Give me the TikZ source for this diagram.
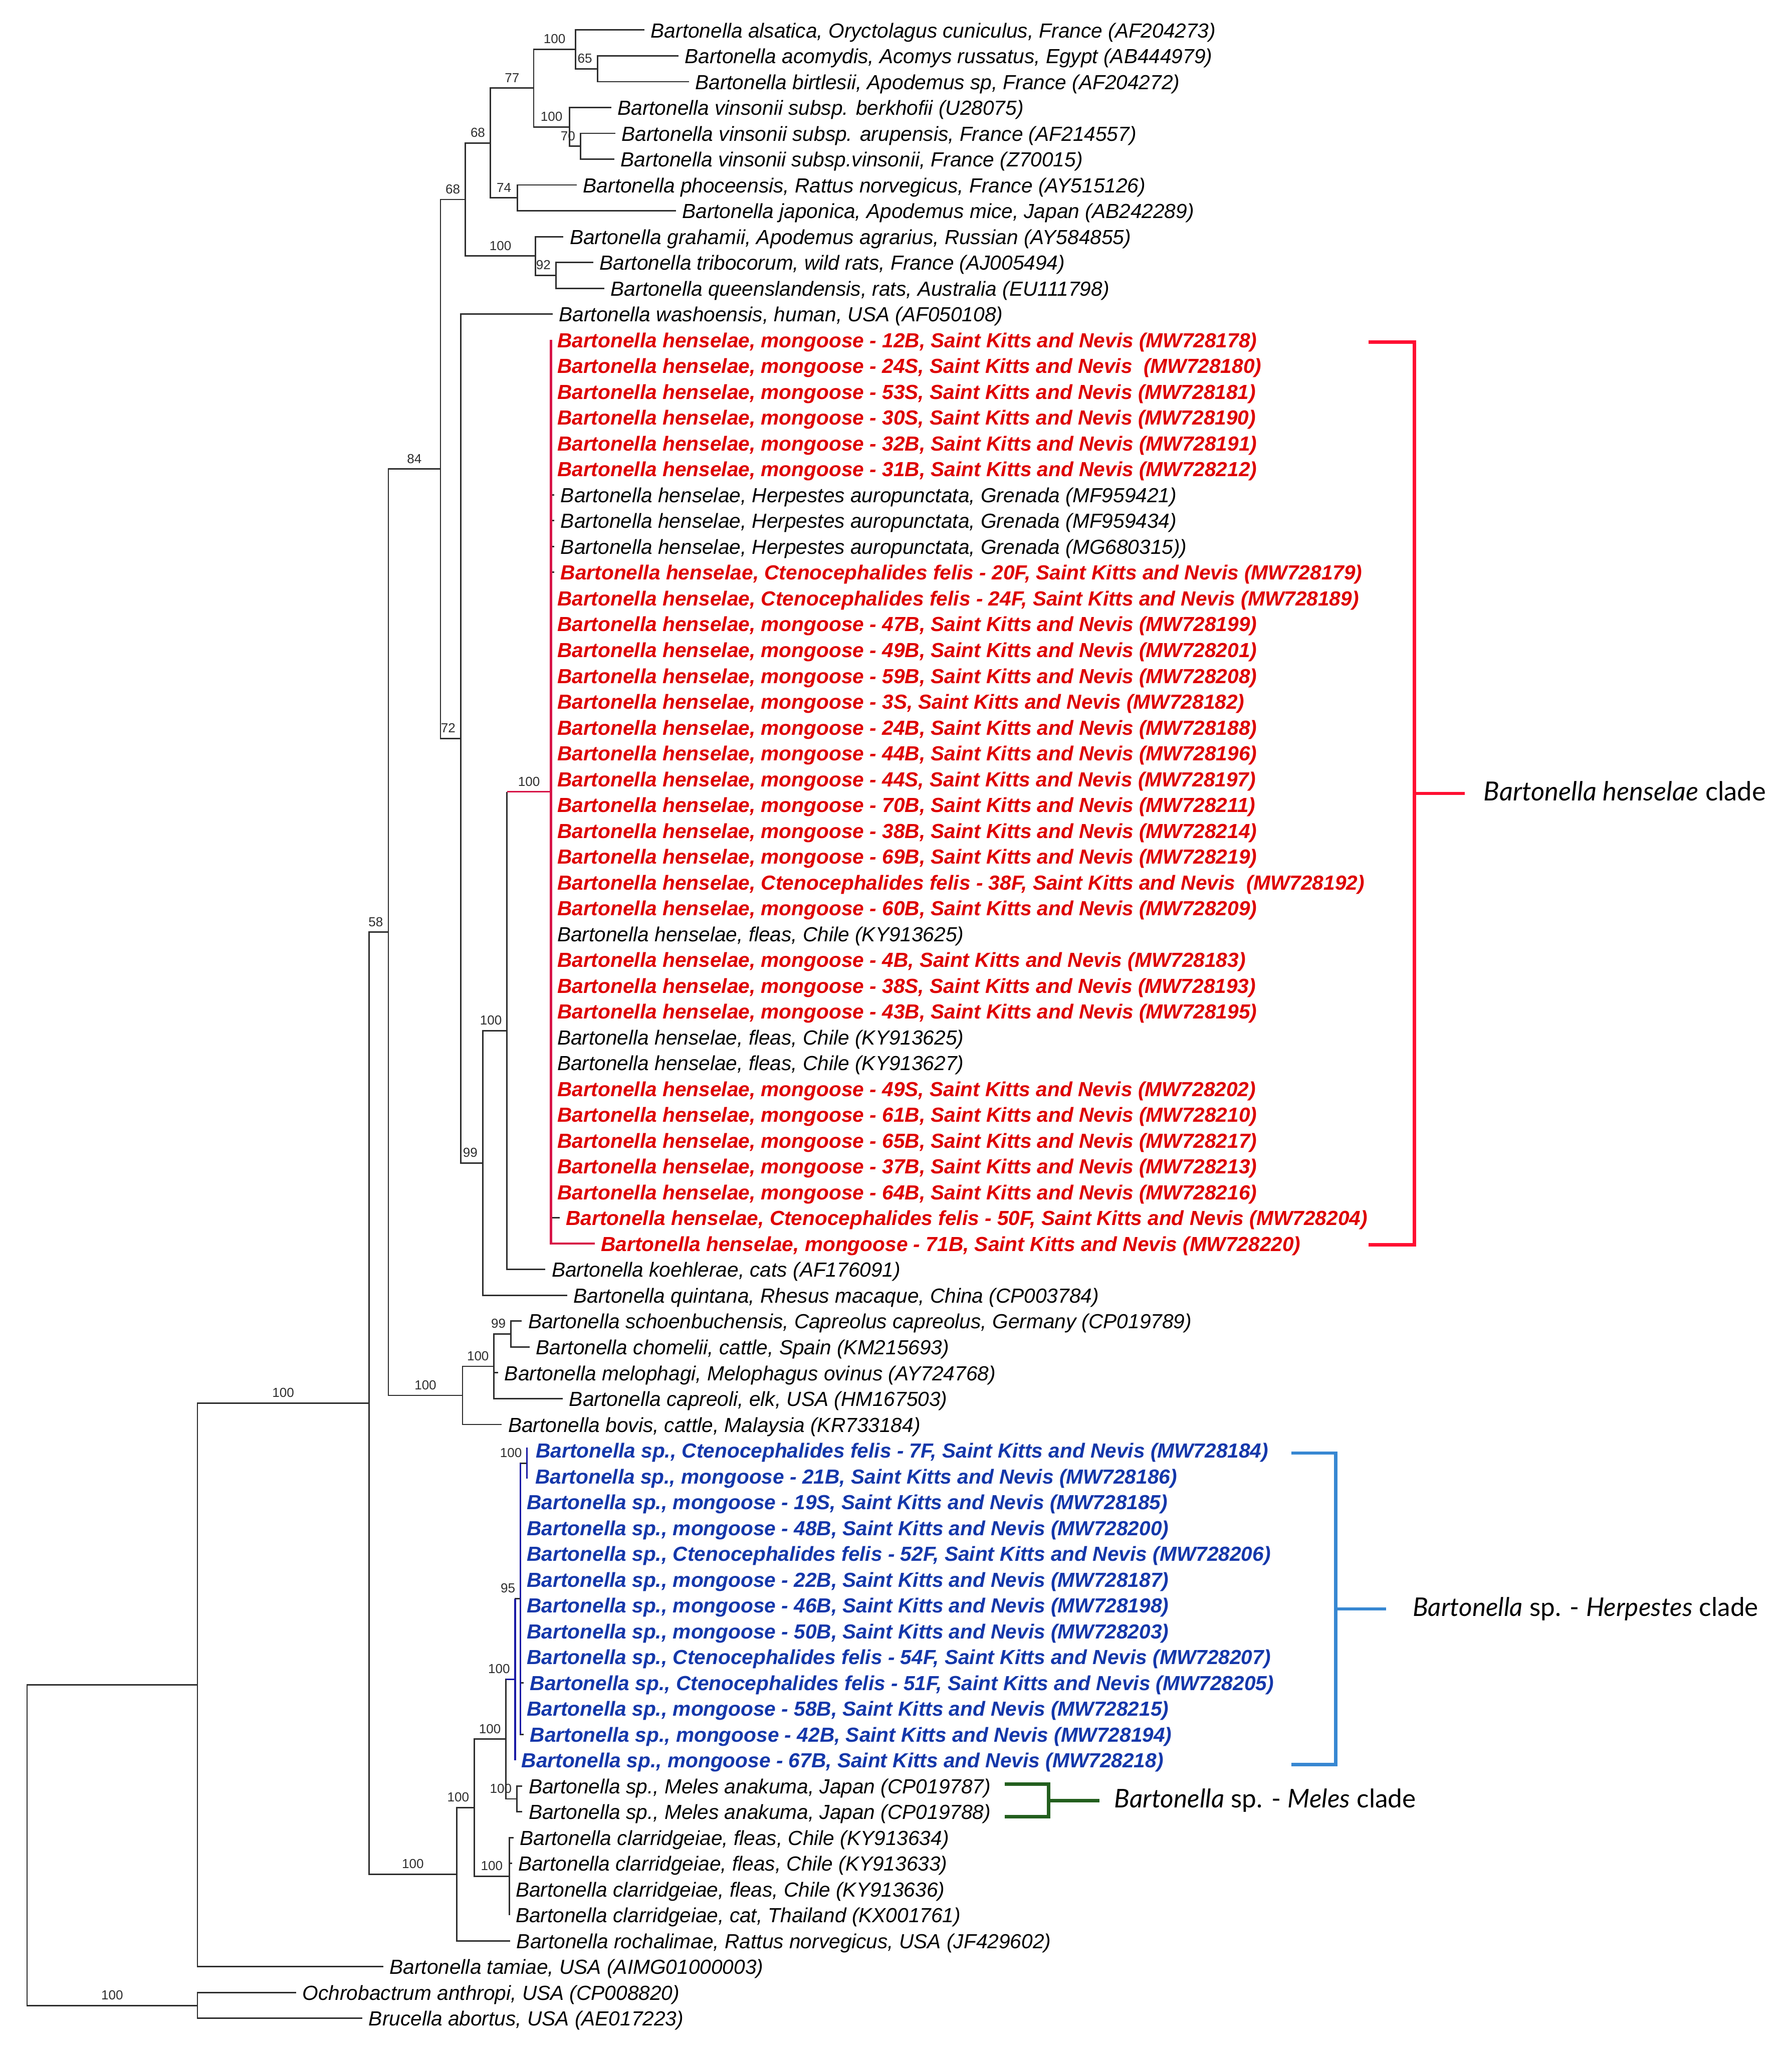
\documentclass[tikz,border=0pt]{standalone}
\usepackage{fontspec}
\setmainfont{Liberation Sans}
\newfontfamily\cladefont{Lato}
\usetikzlibrary{calc}
\definecolor{treegray}{RGB}{45,45,45}
\definecolor{hred}{RGB}{222,0,0}
\definecolor{hredline}{RGB}{215,20,70}
\definecolor{bblue}{RGB}{20,55,170}
\definecolor{bblueline}{RGB}{25,25,165}
\definecolor{brred}{RGB}{255,15,50}
\definecolor{brblue}{RGB}{55,135,210}
\definecolor{brgreen}{RGB}{35,95,30}
\newcommand{\ly}[1]{(23+(#1-1)*19.77)}
\newcommand{\BhM}[2]{Bartonella henselae, mongoose - #1, Saint Kitts and Nevis (#2)}
\newcommand{\BhC}[2]{Bartonella henselae, Ctenocephalides felis - #1, Saint Kitts and Nevis (#2)}
\newcommand{\BsM}[2]{Bartonella sp., mongoose - #1, Saint Kitts and Nevis (#2)}
\newcommand{\BsC}[2]{Bartonella sp., Ctenocephalides felis - #1, Saint Kitts and Nevis (#2)}
\tikzset{
  br/.style={draw=treegray, line width=0.55pt},
  redv/.style={draw=hredline, line width=0.8pt},
  redthin/.style={draw=hredline, line width=0.55pt},
  bluev/.style={draw=bblueline, line width=0.65pt},
  leaf/.style={anchor=base west, inner sep=0pt, text=black, font=\fontsize{7.8}{9}\selectfont\itshape, xshift=2.25pt, yshift=-2.9pt},
  redleaf/.style={leaf, text=hred, font=\fontsize{7.8}{9}\selectfont\bfseries\itshape},
  blueleaf/.style={leaf, text=bblue, font=\fontsize{7.8}{9}\selectfont\bfseries\itshape},
  bs/.style={anchor=base, inner sep=0pt, text=treegray, font=\fontsize{5}{6}\selectfont, yshift=2.25pt},
  brk/.style={line width=1.3pt, line join=miter, line cap=butt},
  clade/.style={anchor=base west, inner sep=0pt, font=\cladefont\fontsize{9.85}{11}\selectfont, yshift=-2.7pt},
  cladeh/.style={clade, font=\cladefont\fontsize{10.1}{11}\selectfont}
}
\begin{document}
\begin{tikzpicture}[x=0.5pt,y=-0.5pt]
\fill[white] (0,0) rectangle (1372,1568);
\useasboundingbox (0,0) rectangle (1372,1568);
% internal nodes
\coordinate (Root) at (20.7,1412.73);
\coordinate (A) at (151.2,1290.06);
\coordinate (OG) at (151.2,1535.405);
\coordinate (Core) at (282.5,1074.37);
\coordinate (N58) at (297.4,713.72);
\coordinate (N84) at (337.3,359.09);
\coordinate (N68a) at (356.4,152.74);
\coordinate (N68b) at (375.5,109.49);
\coordinate (N77) at (408.7,67.48);
\coordinate (T100) at (440.7,37.83);
\coordinate (N65) at (457.5,52.655);
\coordinate (V100) at (436,97.14);
\coordinate (N70) at (444.5,111.965);
\coordinate (N74) at (396.3,151.505);
\coordinate (G100) at (410.1,195.99);
\coordinate (N92) at (425.7,210.815);
\coordinate (N72) at (352.8,565.44);
\coordinate (N99) at (369.7,890.41);
\coordinate (H100) at (388.2,789.09);
\coordinate (R100) at (421.9,606.215);
\coordinate (S100) at (354.2,1068.34);
\coordinate (S100b) at (378.3,1046.1);
\coordinate (N99b) at (391.3,1021.385);
\coordinate (W) at (349.8,1435.01);
\coordinate (Z) at (363.2,1384.04);
\coordinate (C100) at (390,1436.555);
\coordinate (Y) at (387.5,1331.53);
\coordinate (M100) at (395.8,1377.245);
\coordinate (X) at (394.5,1285.81);
\coordinate (N95) at (398.6,1224.03);
\coordinate (P100) at (403.6,1120.24);
% leaf ends
\coordinate (L1) at (493.5,{\ly{1}});
\coordinate (L2) at (519.5,{\ly{2}});
\coordinate (L3) at (527.5,{\ly{3}});
\coordinate (L4) at (468,{\ly{4}});
\coordinate (L5) at (471.1,{\ly{5}});
\coordinate (L6) at (470.5,{\ly{6}});
\coordinate (L7) at (441.7,{\ly{7}});
\coordinate (L8) at (517.5,{\ly{8}});
\coordinate (L9) at (431.5,{\ly{9}});
\coordinate (L10) at (454.3,{\ly{10}});
\coordinate (L11) at (462.8,{\ly{11}});
\coordinate (L12) at (423.2,{\ly{12}});
\foreach \i in {13,...,18,23,24,...,46} {\coordinate (L\i) at (421.9,{\ly{\i}});}
\foreach \i in {19,20,21,22} {\coordinate (L\i) at (424.5,{\ly{\i}});}
\coordinate (L47) at (428.5,{\ly{47}});
\coordinate (L48) at (455.4,{\ly{48}});
\coordinate (L49) at (417.7,{\ly{49}});
\coordinate (L50) at (434.3,{\ly{50}});
\coordinate (L51) at (399.6,{\ly{51}});
\coordinate (L52) at (405.5,{\ly{52}});
\coordinate (L53) at (381.5,{\ly{53}});
\coordinate (L54) at (431,{\ly{54}});
\coordinate (L55) at (384.3,{\ly{55}});
\coordinate (L56) at (405.5,{\ly{56}});
\coordinate (L57) at (405,{\ly{57}});
\foreach \i in {58,...,64,66} {\coordinate (L\i) at (398.6,{\ly{\i}});}
\coordinate (L65) at (401,{\ly{65}});
\coordinate (L67) at (401,{\ly{67}});
\coordinate (L68) at (394.5,{\ly{68}});
\coordinate (L69) at (400,{\ly{69}});
\coordinate (L70) at (400,{\ly{70}});
\coordinate (L71) at (393.2,{\ly{71}});
\coordinate (L72) at (392,{\ly{72}});
\coordinate (L73) at (390,{\ly{73}});
\coordinate (L74) at (390,{\ly{74}});
\coordinate (L75) at (390.7,{\ly{75}});
\coordinate (L76) at (293.5,{\ly{76}});
\coordinate (L77) at (226.8,{\ly{77}});
\coordinate (L78) at (277.5,{\ly{78}});
% internal branches
\draw[br] (Root) |- (A);
\draw[br] (Root) |- (OG);
\draw[br] (A) |- (Core);
\draw[br] (Core) |- (N58);
\draw[br] (Core) |- (W);
\draw[br] (N58) |- (N84);
\draw[br] (N58) |- (S100);
\draw[br] (N84) |- (N68a);
\draw[br] (N84) |- (N72);
\draw[br] (N68a) |- (N68b);
\draw[br] (N68a) |- (G100);
\draw[br] (N68b) |- (N77);
\draw[br] (N68b) |- (N74);
\draw[br] (N77) |- (T100);
\draw[br] (N77) |- (V100);
\draw[br] (T100) |- (N65);
\draw[br] (V100) |- (N70);
\draw[br] (G100) |- (N92);
\draw[br] (N72) |- (N99);
\draw[br] (N99) |- (H100);
\draw[br] (H100) -- (H100 |- R100);
\draw[br] (S100) |- (S100b);
\draw[br] (S100b) |- (N99b);
\draw[br] (W) |- (Z);
\draw[br] (Z) |- (Y);
\draw[br] (Z) |- (C100);
\draw[br] (Y) |- (X);
\draw[br] (Y) |- (M100);
\draw[br] (X) |- (N95);
\draw[br] (N95) |- (P100);
% leaf branches
\foreach \p/\c in {T100/L1, N65/L2, N65/L3, V100/L4, N70/L5, N70/L6, N74/L7, N74/L8, G100/L9, N92/L10, N92/L11, N72/L12,
  R100/L19, R100/L20, R100/L21, R100/L22, R100/L47, H100/L49, N99/L50, N99b/L51, N99b/L52, S100b/L53, S100b/L54, S100/L55,
  N95/L65, N95/L67, X/L68, M100/L69, M100/L70, C100/L71, C100/L72, C100/L73, C100/L74, W/L75, A/L76, OG/L77, OG/L78}
  {\draw[br] (\p) |- (\c);}
% coloured branches
\draw[redthin] (H100 |- R100) -- (R100);
\draw[redv] (R100 |- L13) -- (R100 |- L48) -- (L48);
\draw[bluev] (Y |- X) -- (X);
\draw[bluev] (X |- N95) -- (X |- L68);
\draw[bluev] (N95 |- P100) -- (N95 |- L67);
\draw[bluev] ([yshift=1pt]P100 |- L56) -- ([yshift=-1pt]P100 |- L57);
% bootstrap values
\node[bs] (bOG) at (85.95,1535.405) {100};
\node[bs] (bCore) at (216.85,1074.37) {100};
\node[bs] (bN58) at (287.8,713.72) {58};
\node[bs] (bN84) at (317.35,359.09) {84};
\node[bs] (bN68a) at (346.8,152.74) {68};
\node[bs] (bN68b) at (365.9,109.49) {68};
\node[bs] (bN77) at (392.1,67.48) {77};
\node[bs] (bT100) at (424.7,37.83) {100};
\node[bs] (bN65) at (447.9,52.655) {65};
\node[bs] (bV100) at (422.35,97.14) {100};
\node[bs] (bN70) at (434.9,111.965) {70};
\node[bs] (bN74) at (385.9,151.505) {74};
\node[bs] (bG100) at (383.25,195.99) {100};
\node[bs] (bN92) at (416.1,210.815) {92};
\node[bs] (bN72) at (343.2,565.44) {72};
\node[bs] (bN99) at (360.1,890.41) {99};
\node[bs] (bH100) at (375.9,789.09) {100};
\node[bs] (bR100) at (405.05,606.215) {100};
\node[bs] (bS100) at (325.8,1068.34) {100};
\node[bs] (bS100b) at (366,1046.1) {100};
\node[bs] (bN99b) at (381.7,1021.385) {99};
\node[bs] (bW) at (316.15,1435.01) {100};
\node[bs] (bZ) at (350.9,1384.04) {100};
\node[bs] (bC100) at (376.6,1436.555) {100};
\node[bs] (bY) at (375.2,1331.53) {100};
\node[bs] (bM100) at (383.5,1377.245) {100};
\node[bs] (bX) at (382.2,1285.81) {100};
\node[bs] (bN95) at (389,1224.03) {95};
\node[bs] (bP100) at (391.3,1120.24) {100};
% leaf labels
\node[leaf] (t1) at (L1) {Bartonella alsatica, Oryctolagus cuniculus, France (AF204273)};
\node[leaf] (t2) at (L2) {Bartonella acomydis, Acomys russatus, Egypt (AB444979)};
\node[leaf] (t3) at (L3) {Bartonella birtlesii, Apodemus sp, France (AF204272)};
\node[leaf] (t4) at (L4) {Bartonella vinsonii subsp. berkhofii (U28075)};
\node[leaf] (t5) at (L5) {Bartonella vinsonii subsp. arupensis, France (AF214557)};
\node[leaf] (t6) at (L6) {Bartonella vinsonii subsp.vinsonii, France (Z70015)};
\node[leaf] (t7) at (L7) {Bartonella phoceensis, Rattus norvegicus, France (AY515126)};
\node[leaf] (t8) at (L8) {Bartonella japonica, Apodemus mice, Japan (AB242289)};
\node[leaf] (t9) at (L9) {Bartonella grahamii, Apodemus agrarius, Russian (AY584855)};
\node[leaf] (t10) at (L10) {Bartonella tribocorum, wild rats, France (AJ005494)};
\node[leaf] (t11) at (L11) {Bartonella queenslandensis, rats, Australia (EU111798)};
\node[leaf] (t12) at (L12) {Bartonella washoensis, human, USA (AF050108)};
\node[redleaf] (t13) at (L13) {\BhM{12B}{MW728178}};
\node[redleaf] (t14) at (L14) {Bartonella henselae, mongoose - 24S, Saint Kitts and Nevis\ \ (MW728180)};
\node[redleaf] (t15) at (L15) {\BhM{53S}{MW728181}};
\node[redleaf] (t16) at (L16) {\BhM{30S}{MW728190}};
\node[redleaf] (t17) at (L17) {\BhM{32B}{MW728191}};
\node[redleaf] (t18) at (L18) {\BhM{31B}{MW728212}};
\node[leaf] (t19) at (L19) {Bartonella henselae, Herpestes auropunctata, Grenada (MF959421)};
\node[leaf] (t20) at (L20) {Bartonella henselae, Herpestes auropunctata, Grenada (MF959434)};
\node[leaf] (t21) at (L21) {Bartonella henselae, Herpestes auropunctata, Grenada (MG680315))};
\node[redleaf] (t22) at (L22) {\BhC{20F}{MW728179}};
\node[redleaf] (t23) at (L23) {\BhC{24F}{MW728189}};
\node[redleaf] (t24) at (L24) {\BhM{47B}{MW728199}};
\node[redleaf] (t25) at (L25) {\BhM{49B}{MW728201}};
\node[redleaf] (t26) at (L26) {\BhM{59B}{MW728208}};
\node[redleaf] (t27) at (L27) {\BhM{3S}{MW728182}};
\node[redleaf] (t28) at (L28) {\BhM{24B}{MW728188}};
\node[redleaf] (t29) at (L29) {\BhM{44B}{MW728196}};
\node[redleaf] (t30) at (L30) {\BhM{44S}{MW728197}};
\node[redleaf] (t31) at (L31) {\BhM{70B}{MW728211}};
\node[redleaf] (t32) at (L32) {\BhM{38B}{MW728214}};
\node[redleaf] (t33) at (L33) {\BhM{69B}{MW728219}};
\node[redleaf] (t34) at (L34) {Bartonella henselae, Ctenocephalides felis - 38F, Saint Kitts and Nevis\ \ (MW728192)};
\node[redleaf] (t35) at (L35) {\BhM{60B}{MW728209}};
\node[leaf] (t36) at (L36) {Bartonella henselae, fleas, Chile (KY913625)};
\node[redleaf] (t37) at (L37) {\BhM{4B}{MW728183}};
\node[redleaf] (t38) at (L38) {\BhM{38S}{MW728193}};
\node[redleaf] (t39) at (L39) {\BhM{43B}{MW728195}};
\node[leaf] (t40) at (L40) {Bartonella henselae, fleas, Chile (KY913625)};
\node[leaf] (t41) at (L41) {Bartonella henselae, fleas, Chile (KY913627)};
\node[redleaf] (t42) at (L42) {\BhM{49S}{MW728202}};
\node[redleaf] (t43) at (L43) {\BhM{61B}{MW728210}};
\node[redleaf] (t44) at (L44) {\BhM{65B}{MW728217}};
\node[redleaf] (t45) at (L45) {\BhM{37B}{MW728213}};
\node[redleaf] (t46) at (L46) {\BhM{64B}{MW728216}};
\node[redleaf] (t47) at (L47) {\BhC{50F}{MW728204}};
\node[redleaf] (t48) at (L48) {\BhM{71B}{MW728220}};
\node[leaf] (t49) at (L49) {Bartonella koehlerae, cats (AF176091)};
\node[leaf] (t50) at (L50) {Bartonella quintana, Rhesus macaque, China (CP003784)};
\node[leaf] (t51) at (L51) {Bartonella schoenbuchensis, Capreolus capreolus, Germany (CP019789)};
\node[leaf] (t52) at (L52) {Bartonella chomelii, cattle, Spain (KM215693)};
\node[leaf] (t53) at (L53) {Bartonella melophagi, Melophagus ovinus (AY724768)};
\node[leaf] (t54) at (L54) {Bartonella capreoli, elk, USA (HM167503)};
\node[leaf] (t55) at (L55) {Bartonella bovis, cattle, Malaysia (KR733184)};
\node[blueleaf] (t56) at (L56) {\BsC{7F}{MW728184}};
\node[blueleaf] (t57) at (L57) {\BsM{21B}{MW728186}};
\node[blueleaf] (t58) at (L58) {\BsM{19S}{MW728185}};
\node[blueleaf] (t59) at (L59) {\BsM{48B}{MW728200}};
\node[blueleaf] (t60) at (L60) {\BsC{52F}{MW728206}};
\node[blueleaf] (t61) at (L61) {\BsM{22B}{MW728187}};
\node[blueleaf] (t62) at (L62) {\BsM{46B}{MW728198}};
\node[blueleaf] (t63) at (L63) {\BsM{50B}{MW728203}};
\node[blueleaf] (t64) at (L64) {\BsC{54F}{MW728207}};
\node[blueleaf] (t65) at (L65) {\BsC{51F}{MW728205}};
\node[blueleaf] (t66) at (L66) {\BsM{58B}{MW728215}};
\node[blueleaf] (t67) at (L67) {\BsM{42B}{MW728194}};
\node[blueleaf] (t68) at (L68) {\BsM{67B}{MW728218}};
\node[leaf] (t69) at (L69) {Bartonella sp., Meles anakuma, Japan (CP019787)};
\node[leaf] (t70) at (L70) {Bartonella sp., Meles anakuma, Japan (CP019788)};
\node[leaf] (t71) at (L71) {Bartonella clarridgeiae, fleas, Chile (KY913634)};
\node[leaf] (t72) at (L72) {Bartonella clarridgeiae, fleas, Chile (KY913633)};
\node[leaf] (t73) at (L73) {Bartonella clarridgeiae, fleas, Chile (KY913636)};
\node[leaf] (t74) at (L74) {Bartonella clarridgeiae, cat, Thailand (KX001761)};
\node[leaf] (t75) at (L75) {Bartonella rochalimae, Rattus norvegicus, USA (JF429602)};
\node[leaf] (t76) at (L76) {Bartonella tamiae, USA (AIMG01000003)};
\node[leaf] (t77) at (L77) {Ochrobactrum anthropi, USA (CP008820)};
\node[leaf] (t78) at (L78) {Brucella abortus, USA (AE017223)};
% clade brackets
\coordinate (rb1) at (1048,262);
\coordinate (rb2) at (1083,262);
\coordinate (rb3) at (1083,953);
\coordinate (rb4) at (1048,953);
\coordinate (rbm) at (1083,607.5);
\coordinate (rbt) at (1121.6,607.5);
\draw[brk, brred] (rb1) -- (rb2) -- (rb3) -- (rb4);
\draw[brk, brred] (rbm) -- (rbt);
\node[cladeh] (lh) at (1135.8,607.5) {\textit{Bartonella henselae} clade};
\coordinate (bb1) at (988.8,1112.5);
\coordinate (bb2) at (1022.8,1112.5);
\coordinate (bb3) at (1022.8,1351);
\coordinate (bb4) at (988.8,1351);
\coordinate (bbm) at (1022.8,1231.8);
\coordinate (bbt) at (1061.5,1231.8);
\draw[brk, brblue] (bb1) -- (bb2) -- (bb3) -- (bb4);
\draw[brk, brblue] (bbm) -- (bbt);
\node[clade] (lb) at (1081.5,1231.8) {\textit{Bartonella} sp. - \textit{Herpestes} clade};
\coordinate (gb1) at (769.3,1366);
\coordinate (gb2) at (803,1366);
\coordinate (gb3) at (803,1391);
\coordinate (gb4) at (769.3,1391);
\coordinate (gbm) at (803,1378.5);
\coordinate (gbt) at (842,1378.5);
\draw[brk, brgreen] (gb1) -- (gb2) -- (gb3) -- (gb4);
\draw[brk, brgreen] (gbm) -- (gbt);
\node[clade] (lg) at (853,1378.5) {\textit{Bartonella} sp. - \textit{Meles} clade};
\end{tikzpicture}
\end{document}
